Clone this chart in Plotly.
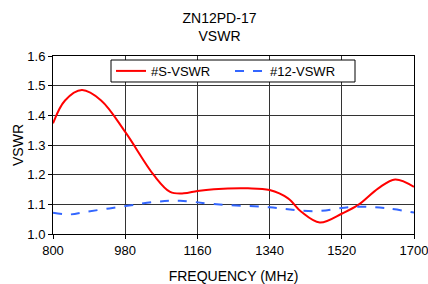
import plotly.graph_objects as go

# Data
s_freq = [800, 830, 872, 920, 980, 1051, 1092, 1126, 1160, 1201, 1286, 1340, 1386, 1419, 1465, 1522, 1561, 1611, 1653, 1700]
s_vswr = [1.373, 1.45, 1.485, 1.45, 1.344, 1.199, 1.142, 1.137, 1.145, 1.151, 1.154, 1.148, 1.120, 1.075, 1.039, 1.070, 1.098, 1.154, 1.184, 1.159]

b_freq = [800, 842, 884, 980, 1059, 1117, 1201, 1340, 1452, 1552, 1636, 1700]
b_vswr = [1.072, 1.066, 1.075, 1.094, 1.109, 1.112, 1.101, 1.090, 1.077, 1.092, 1.086, 1.072]

x_ticks = [800, 980, 1160, 1340, 1520, 1700]
y_ticks = [1.0, 1.1, 1.2, 1.3, 1.4, 1.5, 1.6]

FONT = "Liberation Sans, Arial, sans-serif"

fig = go.Figure()
fig.add_trace(go.Scatter(x=s_freq, y=s_vswr, mode="lines", name="#S-VSWR",
                         line=dict(color="#ff0000", width=2, shape="spline", smoothing=1.0)))
fig.add_trace(go.Scatter(x=b_freq, y=b_vswr, mode="lines", name="#12-VSWR",
                         line=dict(color="#3366ff", width=2, dash="dash", shape="spline", smoothing=1.0)))

# legend box (drawn as a shape so its height matches the reference)
fig.add_shape(type="rect", xref="paper", yref="paper",
              x0=0.1607, x1=0.8366, y0=0.854, y1=0.9775,
              line=dict(color="black", width=1), fillcolor="white", layer="above")

fig.update_layout(
    width=428, height=284,
    margin=dict(l=53, r=14, t=56, b=50, autoexpand=False),
    paper_bgcolor="white", plot_bgcolor="white",
    font=dict(family=FONT, size=13, color="black"),
    title=dict(text="ZN12PD-17<br>VSWR", x=219.5 / 428, xanchor="center",
               y=1 - 23 / 284, yanchor="top", yref="container",
               font=dict(family=FONT, size=14, color="black")),
    showlegend=True,
    legend=dict(orientation="h", x=0.1607, xanchor="left", y=0.916, yanchor="middle",
                bgcolor="rgba(0,0,0,0)", borderwidth=0,
                font=dict(family=FONT, size=13), itemwidth=30, entrywidth=74,
                tracegroupgap=0),
)
fig.update_xaxes(range=[800, 1700], tickvals=x_ticks, ticktext=[str(v) for v in x_ticks],
                 showgrid=True, gridcolor="#333333", gridwidth=1,
                 showline=True, linecolor="black", linewidth=1, mirror=True,
                 ticks="outside", ticklen=4, tickcolor="black",
                 ticklabeloverflow="allow", automargin=False,
                 title=dict(text="FREQUENCY (MHz)", font=dict(family=FONT, size=14), standoff=16),
                 zeroline=False)
fig.update_yaxes(range=[1.0, 1.6], tickvals=y_ticks, ticktext=[f"{v:.1f}" for v in y_ticks],
                 showgrid=True, gridcolor="#333333", gridwidth=1,
                 showline=True, linecolor="black", linewidth=1, mirror=True,
                 ticks="outside", ticklen=4, tickcolor="black",
                 ticklabeloverflow="allow", automargin=False,
                 title=dict(text="VSWR", font=dict(family=FONT, size=14), standoff=0),
                 zeroline=False)

fig.write_html("out.html", config={"displayModeBar": False},
               post_script="document.body.style.margin='0';document.body.style.padding='0';")
